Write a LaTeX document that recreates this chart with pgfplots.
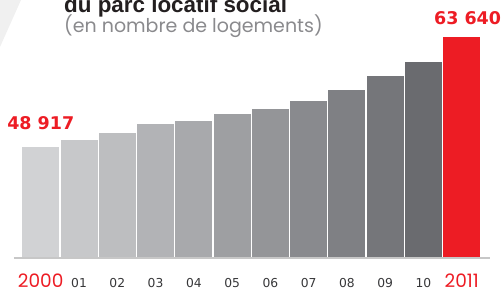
\documentclass[border=0pt]{standalone}
\usepackage{pgfplots}
\pgfplotsset{compat=1.18}
\usepackage{fontspec}
\newfontfamily\dejavu{DejaVu Sans}
\newfontfamily\pop{Poppins}
\newfontfamily\libsans{Liberation Sans}
\definecolor{myred}{RGB}{237,28,36}
\definecolor{b0}{RGB}{209,210,212}
\definecolor{b1}{RGB}{199,200,202}
\definecolor{b2}{RGB}{189,190,192}
\definecolor{b3}{RGB}{178,179,182}
\definecolor{b4}{RGB}{168,169,172}
\definecolor{b5}{RGB}{158,159,162}
\definecolor{b6}{RGB}{148,149,152}
\definecolor{b7}{RGB}{137,138,142}
\definecolor{b8}{RGB}{127,128,132}
\definecolor{b9}{RGB}{117,118,122}
\definecolor{b10}{RGB}{106,107,111}
\definecolor{tick}{RGB}{55,55,57}
\definecolor{sub}{RGB}{138,138,141}
\begin{document}
\begin{tikzpicture}[x=1bp,y=1bp]
\useasboundingbox (0,0) rectangle (503,287);
\clip (0,0) rectangle (503,287);
\fill[black!6] (0,287) -- (21,287) -- (0,240) -- cycle;
\begin{axis}[at={(21.6bp,29bp)}, anchor=south west, scale only axis,
  width=459.3bp, height=221.3bp,
  xmin=-0.5, xmax=11.5, ymin=34180, ymax=63640,
  axis y line=none, axis x line*=bottom, x axis line style={draw=none},
  tick style={draw=none}, ytick=\empty,
  xtick={0,...,11},
  xticklabels={{\pop\fontsize{18.5bp}{20bp}\selectfont\color{myred}2000},01,02,03,04,05,06,07,08,09,10,{\pop\fontsize{18.5bp}{20bp}\selectfont\color{myred}2011}},
  xticklabel style={anchor=base, yshift=-24.8bp, inner sep=0pt, font=\dejavu\fontsize{12.3bp}{14bp}\selectfont, text=tick},
  ybar, bar width=37bp, clip=false]
\addplot[fill=b0, draw=none, bar shift=0pt] coordinates {(0,48917)};
\addplot[fill=b1, draw=none, bar shift=0pt] coordinates {(1,49930)};
\addplot[fill=b2, draw=none, bar shift=0pt] coordinates {(2,50780)};
\addplot[fill=b3, draw=none, bar shift=0pt] coordinates {(3,51980)};
\addplot[fill=b4, draw=none, bar shift=0pt] coordinates {(4,52460)};
\addplot[fill=b5, draw=none, bar shift=0pt] coordinates {(5,53310)};
\addplot[fill=b6, draw=none, bar shift=0pt] coordinates {(6,54055)};
\addplot[fill=b7, draw=none, bar shift=0pt] coordinates {(7,55080)};
\addplot[fill=b8, draw=none, bar shift=0pt] coordinates {(8,56545)};
\addplot[fill=b9, draw=none, bar shift=0pt] coordinates {(9,58450)};
\addplot[fill=b10, draw=none, bar shift=0pt] coordinates {(10,60230)};
\addplot[fill=myred, draw=none, bar shift=0pt] coordinates {(11,63640)};
\draw[black!22, line width=2bp] (axis cs:-0.7,34180) -- (axis cs:11.74,34180);
\node[anchor=base, inner sep=0pt, yshift=17.3bp, text=myred, font=\dejavu\bfseries\fontsize{17.5bp}{19bp}\selectfont] at (axis cs:0,48917) {48 917};
\node[anchor=base, inner sep=0pt, yshift=11.7bp, xshift=5.8bp, text=myred, font=\dejavu\bfseries\fontsize{17.5bp}{19bp}\selectfont] at (axis cs:11,63640) {63 640};
\end{axis}
\node[anchor=base west, inner sep=0pt, text={rgb,255:red,35;green,31;blue,32}, font=\libsans\bfseries\fontsize{22.4bp}{24bp}\selectfont] at (64,274.7) {du parc locatif social};
\node[anchor=base west, inner sep=0pt, text=sub, font=\pop\fontsize{19bp}{21bp}\selectfont] at (64,254.7) {(en nombre de logements)};
\end{tikzpicture}
\end{document}
